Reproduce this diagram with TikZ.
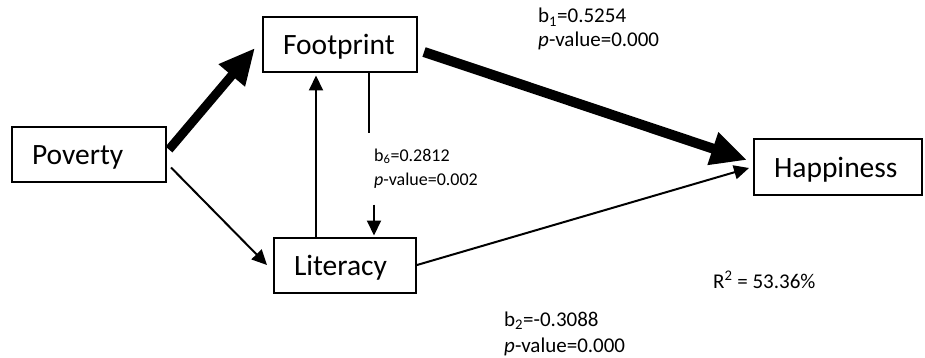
\documentclass[tikz,border=0pt]{standalone}
\usepackage{fontspec}
\setmainfont{Carlito}
\usetikzlibrary{arrows.meta,calc}
\begin{document}
\begin{tikzpicture}[x=1pt,y=-1pt,
  box/.style={draw,line width=2pt,rectangle,minimum height=55pt,inner xsep=20pt,
    align=left,font=\fontsize{29.5}{31}\selectfont,text height=21pt,text depth=1pt},
  lbl/.style={anchor=base west,inner sep=0pt,font=\fontsize{21}{24}\selectfont},
  slbl/.style={anchor=base west,inner sep=0pt,font=\fontsize{18}{22}\selectfont},
  thin/.style={line width=2pt,-{Triangle[length=15pt,width=14pt]}},
  thick/.style={-{Triangle[length=36pt,width=32pt]}},
]
\useasboundingbox (0,0) rectangle (925,358);
\node[box,minimum width=154pt,text width=114pt] (pov) at (89,154.5) {Poverty};
\node[box,minimum width=154pt,text width=114pt] (fp) at (340,45) {Footprint};
\node[box,minimum width=142pt,text width=102pt] (lit) at (345,265) {Literacy};
\node[box,minimum width=168pt,text width=128pt] (hap) at (838,167) {Happiness};

% Poverty -> Footprint (thick)
\draw[thick,line width=9pt] ([shift={(2,-5)}]pov.east) -- ([shift={(-7,3)}]fp.west);
% Poverty -> Literacy
\draw[thin] ([shift={(4,13)}]pov.east) -- ([shift={(-6,0)}]lit.west);
% Footprint -> Happiness (thick)
\draw[thick,line width=10pt] ([shift={(6,7)}]fp.east) -- ([shift={(-6,-7)}]hap.west);
% Literacy -> Happiness
\draw[thin] (lit.east) -- ([shift={(-4,1)}]hap.west);
% Literacy -> Footprint
\draw[thin,shorten >=2pt] ([xshift=-29pt]lit.north) -- ([xshift=-29pt]lit.north |- fp.south);
% Footprint -> Literacy (interrupted by label)
\coordinate (g1) at ([shift={(29,60)}]fp.south);
\coordinate (g2) at ([shift={(29,-32)}]lit.north);
\draw[line width=2pt] ([xshift=29pt]fp.south) -- (g1);
\draw[thin,shorten >=1pt] (g2) -- ([xshift=29pt]lit.north);

% labels
\node[lbl] (b1) at (538,23) {b\textsubscript{1}=0.5254};
\node[lbl] (p1) at (538,47) {\textit{p}-value=0.000};
\node[slbl] (b6) at (374,161) {b\textsubscript{6}=0.2812};
\node[slbl] (p6) at (374,185) {\textit{p}-value=0.002};
\node[lbl] (b2) at (504,326) {b\textsubscript{2}=-0.3088};
\node[lbl] (p2) at (504,352) {\textit{p}-value=0.000};
\node[lbl] (r2) at (713,288) {R\textsuperscript{2} = 53.36\%};
\end{tikzpicture}
\end{document}
